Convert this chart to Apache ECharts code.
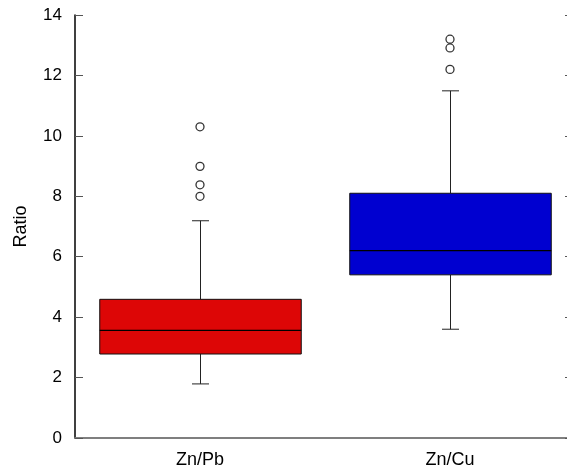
<!DOCTYPE html>
<html>
<head>
<meta charset="utf-8">
<script src="https://cdn.jsdelivr.net/npm/echarts@6/dist/echarts.min.js"></script>
<style>
html,body{margin:0;padding:0;background:#fff;overflow:hidden;}
#main{width:567px;height:474px;}
</style>
</head>
<body>
<div id="main"></div>
<script>
var categories = ['Zn/Pb', 'Zn/Cu'];
var whiskerLow = [1.79, 3.60];
var quartile1 = [2.78, 5.40];
var medians = [3.56, 6.20];
var quartile3 = [4.59, 8.10];
var whiskerHigh = [7.19, 11.49];
var outliersZnPb = [8.0, 8.38, 8.99, 10.3];
var outliersZnCu = [12.2, 12.91, 13.2];
var yTicks = [0, 2, 4, 6, 8, 10, 12, 14];
var boxColors = ['#DD0606', '#0000D0'];

var boxData = categories.map(function (c, i) {
  return [i, whiskerLow[i], quartile1[i], medians[i], quartile3[i], whiskerHigh[i]];
});
var outlierData = [];
outliersZnPb.forEach(function (v) { outlierData.push([0, v]); });
outliersZnCu.forEach(function (v) { outlierData.push([1, v]); });

function renderItem(params, api) {
  var idx = api.value(0);
  var pMin = api.coord([idx, api.value(1)]);
  var pQ1 = api.coord([idx, api.value(2)]);
  var pMed = api.coord([idx, api.value(3)]);
  var pQ3 = api.coord([idx, api.value(4)]);
  var pMax = api.coord([idx, api.value(5)]);
  var band = api.size([1, 0])[0];
  var bw = band * 0.806;
  var cw = band * 0.068;
  var x = Math.round(pMed[0]) + 0.5;
  var ls = { stroke: '#222', lineWidth: 1 };
  return {
    type: 'group',
    children: [
      { type: 'line', shape: { x1: x, y1: pMax[1], x2: x, y2: pQ3[1] }, style: ls },
      { type: 'line', shape: { x1: x, y1: pQ1[1], x2: x, y2: pMin[1] }, style: ls },
      { type: 'line', shape: { x1: x - cw / 2, y1: pMax[1], x2: x + cw / 2, y2: pMax[1] }, style: ls },
      { type: 'line', shape: { x1: x - cw / 2, y1: pMin[1], x2: x + cw / 2, y2: pMin[1] }, style: ls },
      { type: 'rect', shape: { x: x - bw / 2, y: pQ3[1], width: bw, height: pQ1[1] - pQ3[1] },
        style: { fill: boxColors[idx], stroke: '#111', lineWidth: 1 } },
      { type: 'line', shape: { x1: x - bw / 2, y1: pMed[1], x2: x + bw / 2, y2: pMed[1] }, style: { stroke: '#000', lineWidth: 1.2 } }
    ]
  };
}

var chart = echarts.init(document.getElementById('main'), null, { renderer: 'canvas' });
var fontFam = 'Liberation Sans, Arial, sans-serif';
chart.setOption({
  animation: false,
  backgroundColor: '#fff',
  grid: { left: 75, top: 15, width: 500, height: 423, containLabel: false, outerBoundsMode: 'none' },
  xAxis: [
    {
      type: 'category', data: categories, position: 'bottom',
      axisLine: { lineStyle: { color: '#777', width: 1.5 } },
      axisTick: { inside: true, length: 8, lineStyle: { color: '#555' } },
      axisLabel: { color: '#000', fontSize: 18, fontFamily: fontFam, margin: 13 },
      splitLine: { show: false }
    },
    {
      type: 'category', data: categories, position: 'top',
      axisLine: { lineStyle: { color: '#777', width: 1.5 } },
      axisTick: { show: false }, axisLabel: { show: false }, splitLine: { show: false }
    }
  ],
  yAxis: [
    {
      type: 'value', min: yTicks[0], max: yTicks[yTicks.length - 1], interval: 2, position: 'left',
      name: 'Ratio', nameLocation: 'middle', nameGap: 45, nameRotate: 90,
      nameTextStyle: { color: '#000', fontSize: 18, fontFamily: fontFam },
      axisLine: { show: true, lineStyle: { color: '#000', width: 1.5 } },
      axisTick: { show: true, inside: true, length: 8, lineStyle: { color: '#555' } },
      axisLabel: { color: '#000', fontSize: 17, fontFamily: fontFam, margin: 13 },
      splitLine: { show: false }
    },
    {
      type: 'value', min: yTicks[0], max: yTicks[yTicks.length - 1], interval: 2, position: 'right',
      axisLine: { show: true, lineStyle: { color: '#777' } },
      axisTick: { show: true, inside: true, length: 10, lineStyle: { color: '#555' } },
      axisLabel: { show: false }, splitLine: { show: false }
    }
  ],
  series: [
    {
      type: 'custom', renderItem: renderItem, data: boxData,
      encode: { x: 0, y: [1, 2, 3, 4, 5] }, z: 2
    },
    {
      type: 'scatter', data: outlierData, symbol: 'circle', symbolSize: 8,
      itemStyle: { color: '#fff', borderColor: '#000', borderWidth: 1.3 }, z: 3
    }
  ]
});
</script>
</body>
</html>
